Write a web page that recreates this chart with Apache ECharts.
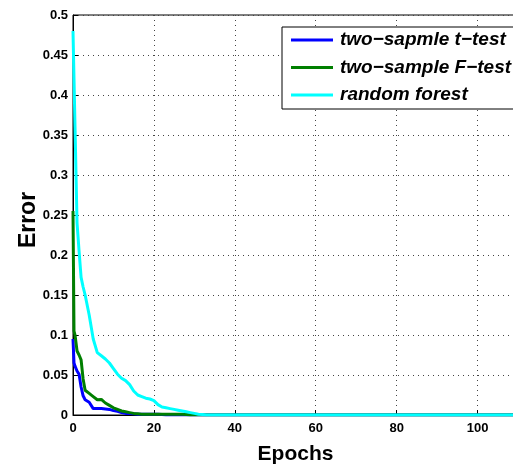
<!DOCTYPE html>
<html>
<head>
<meta charset="utf-8">
<script src="https://cdn.jsdelivr.net/npm/echarts@6/dist/echarts.min.js"></script>
<style>
  html, body { margin: 0; padding: 0; background: #fff; }
  #chart { width: 513px; height: 467px; }
</style>
</head>
<body>
<div id="chart"></div>
<script>
// Training epochs (denser sampling at the start where the error drops fast)
const epochs = [0, 0.25, 0.5, 1, 1.5, 2, 2.5, 3, 4, 5, 6, 7, 8, 9, 10, 11, 12, 13, 14, 15, 16,
  17, 18, 19, 20, 21, 22, 23, 24, 25, 26, 27, 28, 29, 30, 31, 32, 33, 35, 40, 50, 60, 70, 80, 90, 100, 110];

const seriesNames = ['two\u2212sapmle t\u2212test', 'two\u2212sample F\u2212test', 'random forest'];

const tTestError = [0.095, 0.065, 0.061, 0.055, 0.051, 0.035, 0.024, 0.019, 0.016, 0.008, 0.008,
  0.008, 0.0075, 0.007, 0.0055, 0.0045, 0.003, 0.002, 0.0018, 0.0015, 0.001,
  0.001, 0.001, 0.001, 0.001, 0.001, 0.0005, 0, 0, 0, 0, 0, 0, 0, 0, 0, 0, 0, 0, 0, 0, 0, 0, 0, 0, 0, 0];

const fTestError = [0.255, 0.105, 0.1, 0.08, 0.075, 0.069, 0.045, 0.031, 0.027, 0.023, 0.019,
  0.0195, 0.015, 0.012, 0.009, 0.007, 0.005, 0.004, 0.003, 0.002, 0.0015,
  0.001, 0.001, 0.001, 0.001, 0.001, 0.001, 0.001, 0.001, 0.001, 0.001, 0.001, 0.0005, 0, 0, 0, 0, 0, 0, 0, 0, 0, 0, 0, 0, 0, 0];

const forestError = [0.48, 0.42, 0.36, 0.24, 0.205, 0.172, 0.16, 0.15, 0.125, 0.095, 0.078,
  0.074, 0.07, 0.065, 0.058, 0.051, 0.046, 0.043, 0.038, 0.03, 0.025,
  0.023, 0.021, 0.02, 0.018, 0.013, 0.01, 0.009, 0.008, 0.007, 0.006, 0.005, 0.004, 0.003, 0.002,
  0.001, 0.0005, 0, 0, 0, 0, 0, 0, 0, 0, 0, 0];

const seriesColors = ['#0000ff', '#007f00', '#00ffff'];

const xTicks = { min: 0, max: 110, interval: 20 };
const yTicks = { min: 0, max: 0.5, interval: 0.05 };

const font = 'Liberation Sans, Arial, Helvetica, sans-serif';

function pairs(values) {
  return epochs.map((e, i) => [e, values[i]]);
}

const chart = echarts.init(document.getElementById('chart'), null, { renderer: 'canvas' });

chart.setOption({
  animation: false,
  backgroundColor: '#fff',
  grid: {
    left: 73, top: 15, bottom: 52, right: -5,
    outerBoundsMode: 'none',
    containLabel: false,
    show: true, borderColor: '#000', borderWidth: 1, backgroundColor: '#fff'
  },
  legend: {
    orient: 'vertical',
    left: 282, top: 27,
    backgroundColor: '#fff',
    borderColor: '#000', borderWidth: 1,
    padding: [3, 4, 4, 9],
    itemGap: 7.5,
    icon: 'rect',
    itemWidth: 42, itemHeight: 3,
    data: seriesNames,
    textStyle: {
      fontFamily: font, fontSize: 19, fontWeight: 'bold', fontStyle: 'italic', color: '#000',
      lineHeight: 20, padding: [0, 0, 0, 2]
    }
  },
  xAxis: {
    type: 'value',
    min: xTicks.min, max: xTicks.max, interval: xTicks.interval,
    name: 'Epochs', nameLocation: 'middle', nameGap: 29,
    nameMoveOverlap: false,
    nameTextStyle: { fontFamily: font, fontSize: 21, fontWeight: 'bold', color: '#000' },
    axisLine: { lineStyle: { color: '#000', width: 1 } },
    axisTick: { inside: true, length: 5, lineStyle: { color: '#000' } },
    axisLabel: {
      showMaxLabel: false, margin: 7,
      fontFamily: font, fontSize: 13, fontWeight: 'bold', color: '#000'
    },
    splitLine: { show: true, lineStyle: { color: '#444', type: [1, 4], width: 1 } }
  },
  yAxis: {
    type: 'value',
    min: yTicks.min, max: yTicks.max, interval: yTicks.interval,
    name: 'Error', nameLocation: 'middle', nameGap: 33,
    nameMoveOverlap: false,
    nameTextStyle: {
      fontFamily: font, fontSize: 23, fontWeight: 'bold', color: '#000',
      padding: [0, 10, 0, 0]
    },
    axisLine: { show: true, lineStyle: { color: '#000', width: 1 } },
    axisTick: { show: true, inside: true, length: 5, lineStyle: { color: '#000' } },
    axisLabel: {
      margin: 5,
      fontFamily: font, fontSize: 13, fontWeight: 'bold', color: '#000'
    },
    splitLine: { show: true, lineStyle: { color: '#444', type: [1, 4], width: 1 } }
  },
  series: [
    { name: seriesNames[0], data: pairs(tTestError) },
    { name: seriesNames[1], data: pairs(fTestError) },
    { name: seriesNames[2], data: pairs(forestError) }
  ].map((s, i) => Object.assign({
    type: 'line',
    symbol: 'none',
    color: seriesColors[i],
    lineStyle: { color: seriesColors[i], width: 3 },
    itemStyle: { color: seriesColors[i] },
    z: 2 + i
  }, s))
});
</script>
</body>
</html>
